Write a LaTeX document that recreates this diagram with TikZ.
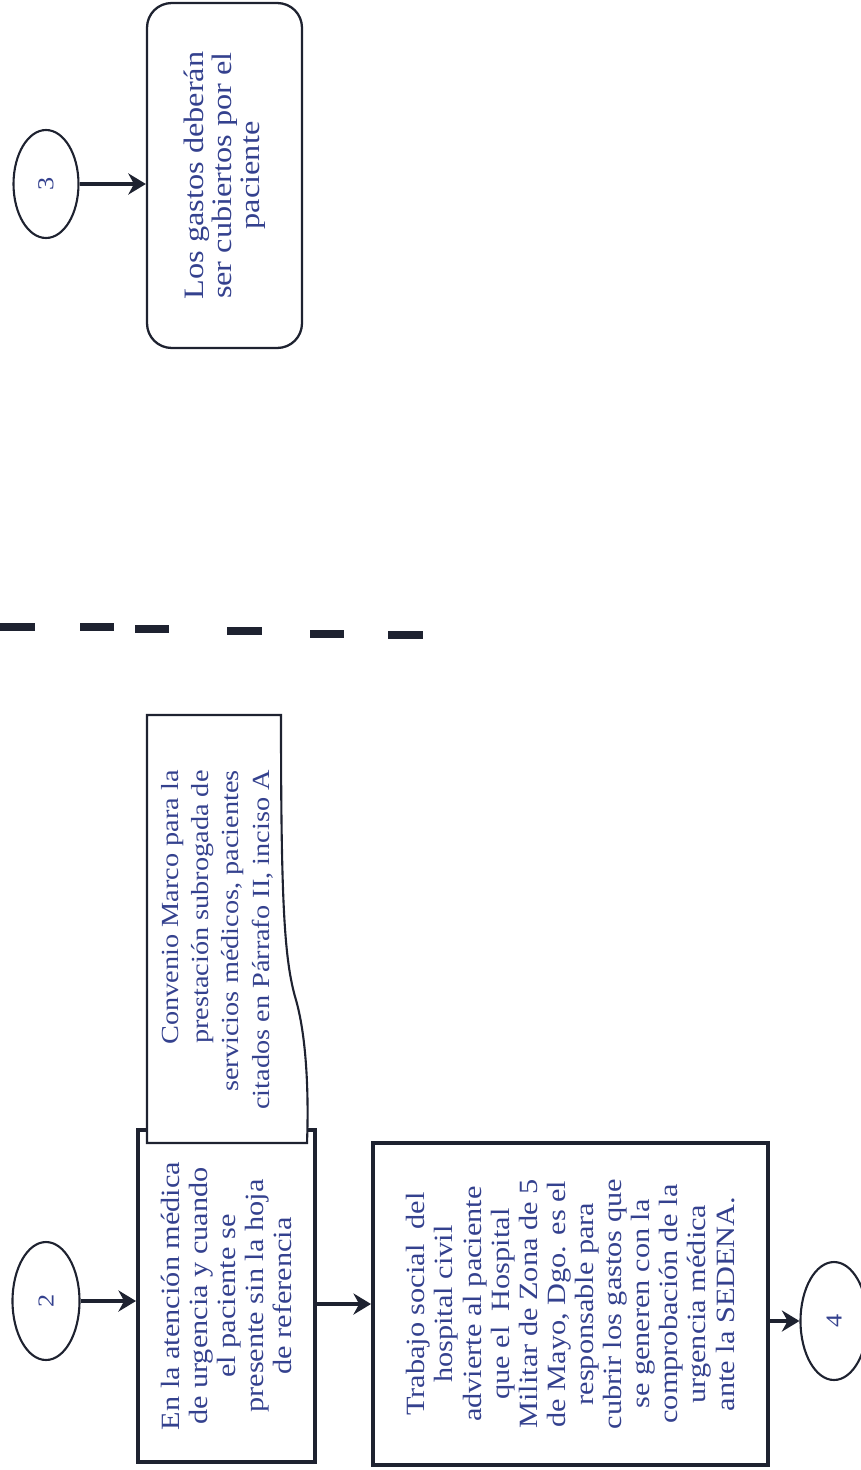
\documentclass[tikz,border=0pt]{standalone}
\usepackage{fontspec}
\setmainfont[FakeStretch=1.15]{Liberation Serif}
\usepackage{tikz}
\usetikzlibrary{arrows.meta, positioning, shapes.geometric}
\definecolor{textnavy}{HTML}{34418E}
\definecolor{linedark}{HTML}{1E2230}

\begin{document}
\begin{tikzpicture}[x=0.02cm, y=-0.02cm, >={Stealth[length=10pt, width=12pt]},
    font=\fontsize{15}{16}\selectfont,
    connector/.style={ellipse, draw=linedark, line width=1.2pt, rotate=90, text=textnavy,
        minimum width=2.36cm, minimum height=1.34cm, inner sep=0pt, font=\fontsize{13}{14}\selectfont},
    procbox/.style={rectangle, draw=linedark, line width=2.3pt, rotate=90, text=textnavy,
        align=center, inner sep=2pt},
    endbox/.style={rectangle, rounded corners=14pt, draw=linedark, line width=1.3pt, rotate=90,
        text=textnavy, align=center},
    flow/.style={->, line width=2pt, draw=linedark}]
    \useasboundingbox (0,0) rectangle (861,1470);

    % Left branch: connector 2
    \node[connector] (conn2) at (46,1301) {2};
    \node[procbox, minimum width=6.64cm, minimum height=3.54cm] (urgencia) at (226.5,1296)
        {En la atención médica\\ de urgencia y cuando\\ el paciente se\\ presente sin la hoja\\ de referencia};

    % Document symbol (drawn over the box)
    \draw[linedark, line width=1.2pt, fill=white]
        (147,1143) -- (147,715) -- (281,715)
        .. controls (281,900) and (284,960) .. (296,1000)
        .. controls (306,1035) and (309,1090) .. (307,1143) -- cycle;
    \node[rotate=90, text=textnavy, align=right, font=\fontsize{14}{17.3}\selectfont] (convenio) at (217,940)
        {Convenio Marco para la\\ prestación subrogada de\\ servicios médicos, pacientes\\ citados en Párrafo II, inciso A};

    \node[procbox, minimum width=6.44cm, minimum height=7.9cm] (trabajo) at (570.5,1304)
        {Trabajo social~ del\\ hospital civil\\ advierte al paciente\\ que el~ Hospital\\ Militar de Zona de 5\\
         de Mayo, Dgo. es el\\ responsable para\\ cubrir los gastos que\\ se generen con la\\
         comprobación de la\\ urgencia médica\\ ante la SEDENA.};
    \node[connector] (conn4) at (834,1321) {4};

    \draw[flow] (conn2) -- (conn2 -| urgencia.north);
    \draw[flow] (urgencia.south |- trabajo) -- (trabajo.north);
    \draw[flow] (trabajo.south |- conn4) -- (conn4);

    % Separator
    \foreach \xa/\xb/\ya in {0/35/627, 80/114/627, 135/169/629, 227/262/631, 310/344/634, 388/423/635}
        \draw[linedark, line width=4pt] (\xa,\ya) -- (\xb,\ya);

    % Right branch: connector 3
    \node[connector, minimum width=2.16cm, minimum height=1.3cm] (conn3) at (46,184) {3};
    \node[endbox, minimum width=6.9cm, minimum height=3.1cm, font=\fontsize{16}{16}\selectfont] (gastos) at (224.5,175.5)
        {Los gastos deberán\\ ser cubiertos por el\\ paciente};
    \draw[flow] (conn3) -- (conn3 -| gastos.north);
\end{tikzpicture}
\end{document}
